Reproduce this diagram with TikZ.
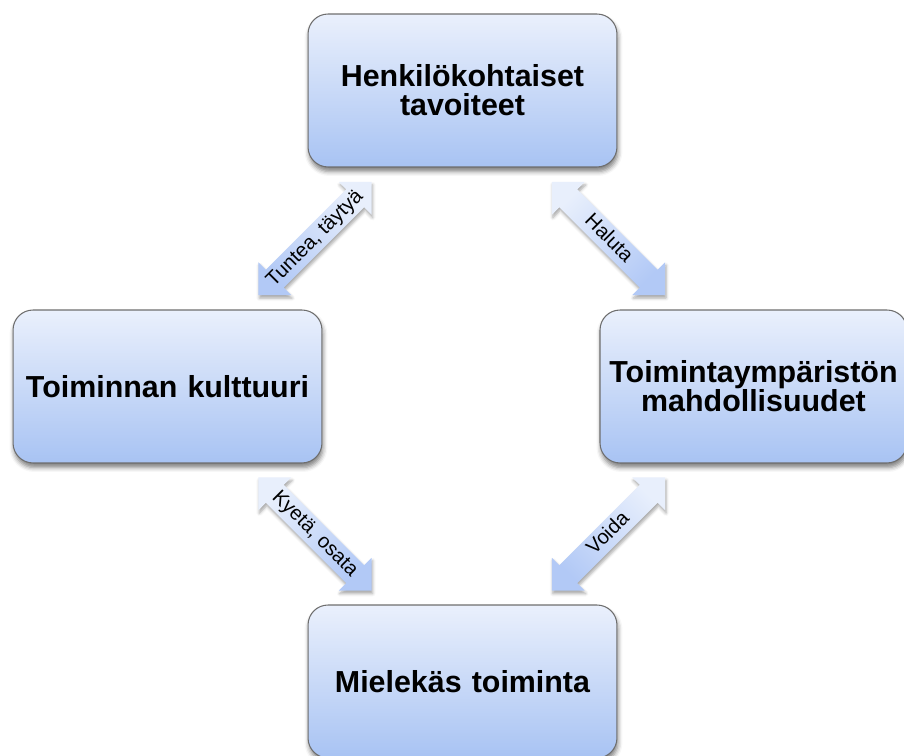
\documentclass[tikz,border=0pt]{standalone}
\usepackage{fontspec}
\setmainfont{Liberation Sans}
\usetikzlibrary{shapes.arrows,shadows.blur,calc}

\definecolor{boxtop}{RGB}{234,240,252}
\definecolor{boxbottom}{RGB}{168,195,243}
\definecolor{boxline}{RGB}{110,110,110}
\definecolor{arrowlight}{RGB}{232,239,252}
\definecolor{arrowdark}{RGB}{178,201,246}

\tikzset{
  goal/.style={
    rectangle,
    rounded corners=0.4cm,
    draw=boxline,
    line width=0.6pt,
    top color=boxtop,
    bottom color=boxbottom,
    minimum width=6.18cm,
    minimum height=3.06cm,
    text width=6cm,
    inner sep=2pt,
    text centered,
    align=center,
    font=\fontsize{17.3}{16.5}\selectfont\bfseries,
    blur shadow={shadow xshift=0.02cm, shadow yshift=-0.09cm, shadow blur radius=0.09cm, shadow opacity=50}
  },
  link/.style={
    double arrow,
    double arrow head extend=0.21cm,
    double arrow tip angle=90,
    minimum height=3.2cm,
    inner xsep=0pt,
    inner ysep=0.5pt,
    text height=9.6pt,
    text depth=3.4pt,
    top color=arrowlight,
    bottom color=arrowdark,
    font=\fontsize{11.5}{12}\selectfont,
    blur shadow={shadow xshift=0.02cm, shadow yshift=-0.06cm, shadow blur radius=0.06cm, shadow opacity=35}
  },
}

\begin{document}
\begin{tikzpicture}[x=0.02cm, y=-0.02cm]
  \useasboundingbox (0, 0) rectangle (904, 756);
  \node[goal, anchor=center] (top) at (462.5, 90.5) {Henkilökohtaiset\\tavoiteet};
  \node[goal, anchor=center] (left) at (167.5, 386.5) {Toiminnan kulttuuri};
  \node[goal, anchor=center, minimum width=6cm] (right) at (753.5, 386.5) {Toimintaympäristön\\mahdollisuudet};
  \node[goal, anchor=center] (bottom) at (462.5, 681.5) {Mielekäs toiminta};
  \node[link, rotate=45, shading angle=-45] (tl) at ($(top.south west)!0.5!(left.north east)$) {Tuntea, täytyä};
  \node[link, rotate=-45, shading angle=45] (tr) at ($(top.south east)!0.5!(right.north west)$) {Haluta};
  \node[link, rotate=-45, shading angle=45] (bl) at ($(left.south east)!0.5!(bottom.north west)$) {Kyetä, osata};
  \node[link, rotate=45, shading angle=-45] (br) at ($(right.south west)!0.5!(bottom.north east)$) {Voida};
\end{tikzpicture}
\end{document}
